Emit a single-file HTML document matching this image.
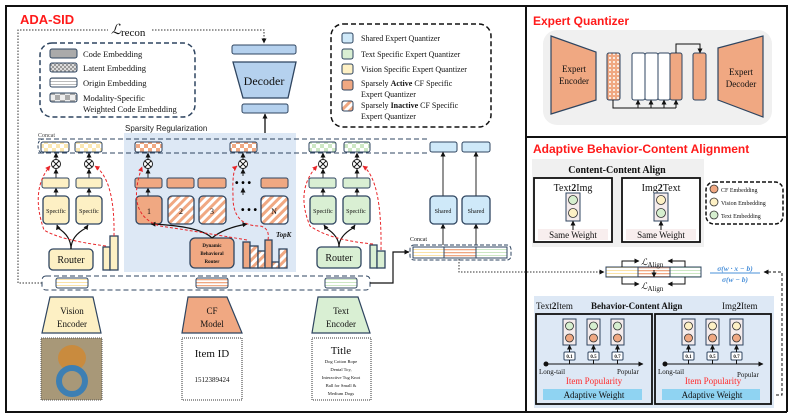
<!DOCTYPE html>
<html><head><meta charset="utf-8">
<style>
html,body{margin:0;padding:0;background:#fff;}
svg{display:block;}
.s{font-family:"Liberation Serif",serif;fill:#111;}
.t{font-family:"Liberation Sans",sans-serif;font-weight:bold;fill:#ff1a1a;}
</style></head><body>
<svg width="793" height="418" viewBox="0 0 793 418" xmlns="http://www.w3.org/2000/svg">
<defs>
<pattern id="hatch" width="6" height="6" patternUnits="userSpaceOnUse" patternTransform="rotate(45)">
<rect width="6" height="6" fill="#fff"/><rect width="3" height="6" fill="#f0a882"/></pattern>
<pattern id="dots" width="4" height="4" patternUnits="userSpaceOnUse">
<rect width="4" height="4" fill="#f0a882"/><circle cx="2" cy="2" r="1" fill="#fff"/></pattern>
<pattern id="lat" width="4" height="4" patternUnits="userSpaceOnUse">
<rect width="4" height="4" fill="#999"/><rect width="2" height="2" fill="#ddd"/><rect x="2" y="2" width="2" height="2" fill="#ddd"/></pattern>
<pattern id="stripes" width="4" height="3" patternUnits="userSpaceOnUse">
<rect width="4" height="3" fill="#fff"/><rect width="4" height="1" fill="#bbb"/></pattern>
<pattern id="chk" width="10" height="10" patternUnits="userSpaceOnUse">
<rect width="10" height="10" fill="#eee"/><rect width="5" height="5" fill="#aaa"/><rect x="5" y="5" width="5" height="5" fill="#aaa"/></pattern>
<pattern id="chkY" width="8" height="8" patternUnits="userSpaceOnUse">
<rect width="8" height="8" fill="#fff"/><rect width="4" height="4" fill="#fbe7b0"/><rect x="4" y="4" width="4" height="4" fill="#fbe7b0"/></pattern>
<pattern id="chkO" width="8" height="8" patternUnits="userSpaceOnUse">
<rect width="8" height="8" fill="#fff"/><rect width="4" height="4" fill="#f0a882"/><rect x="4" y="4" width="4" height="4" fill="#f0a882"/></pattern>
<pattern id="chkG" width="8" height="8" patternUnits="userSpaceOnUse">
<rect width="8" height="8" fill="#fff"/><rect width="4" height="4" fill="#cde8c4"/><rect x="4" y="4" width="4" height="4" fill="#cde8c4"/></pattern>
<pattern id="strY" width="4" height="3" patternUnits="userSpaceOnUse"><rect width="4" height="3" fill="#fff"/><rect width="4" height="1" fill="#fbe3a8"/></pattern>
<pattern id="strO" width="4" height="3" patternUnits="userSpaceOnUse"><rect width="4" height="3" fill="#fff"/><rect width="4" height="1.3" fill="#f0a882"/></pattern>
<pattern id="strG" width="4" height="3" patternUnits="userSpaceOnUse"><rect width="4" height="3" fill="#fff"/><rect width="4" height="1" fill="#cde8c4"/></pattern>
<marker id="ar" markerUnits="userSpaceOnUse" markerWidth="5" markerHeight="5" refX="4.5" refY="2.5" orient="auto"><path d="M0,0 L5,2.5 L0,5 z" fill="#111"/></marker>
<marker id="arR" markerUnits="userSpaceOnUse" markerWidth="5" markerHeight="5" refX="4.5" refY="2.5" orient="auto"><path d="M0,0 L5,2.5 L0,5 z" fill="#e8262a"/></marker>
</defs>

<rect x="6" y="6" width="520" height="406" fill="none" stroke="#111" stroke-width="2"/>
<rect x="526" y="6" width="261" height="131" fill="none" stroke="#111" stroke-width="2"/>
<line x1="526" y1="137" x2="526" y2="412" stroke="#111" stroke-width="2" stroke-dasharray="6,3"/>
<line x1="526" y1="412" x2="787" y2="412" stroke="#111" stroke-width="2"/>
<line x1="787" y1="137" x2="787" y2="412" stroke="#111" stroke-width="2"/>

<text x="20" y="24" class="t" font-size="13">ADA-SID</text>
<text x="533" y="25" class="t" font-size="12">Expert Quantizer</text>
<text x="533" y="153" class="t" font-size="12">Adaptive Behavior-Content Alignment</text>

<path d="M42,283 H18 V30 H108 M152,30 H264 V43" fill="none" stroke="#333" stroke-width="1" stroke-dasharray="1.5,1.5" marker-end="url(#ar)"/>
<text x="111" y="34" class="s" font-size="14" font-style="italic">ℒ</text><text x="121" y="36" class="s" font-size="11">recon</text>

<rect x="40" y="43" width="155" height="74" rx="12" fill="none" stroke="#2f4560" stroke-width="1.5" stroke-dasharray="5,3"/>
<rect x="50" y="49" width="27" height="9" rx="2" fill="#aaa" stroke="#2f4560"/>
<rect x="50" y="63" width="27" height="9" rx="2" fill="url(#lat)" stroke="#2f4560"/>
<rect x="50" y="78" width="27" height="9" rx="2" fill="url(#stripes)" stroke="#2f4560"/>
<rect x="50" y="93" width="27" height="9" rx="2" fill="url(#chk)" stroke="#2f4560"/>
<g class="s" font-size="8.5">
<text x="83" y="57">Code Embedding</text>
<text x="83" y="71">Latent Embedding</text>
<text x="83" y="86">Origin Embedding</text>
<text x="83" y="101">Modality-Specific</text>
<text x="83" y="112">Weighted Code Embedding</text>
</g>

<rect x="232" y="45" width="64" height="9" rx="2" fill="#b5d1ee" stroke="#2f4560"/>
<polygon points="233,62 296,62 288,98 243,98" fill="#b5d1ee" stroke="#2f4560" stroke-width="1.3"/>
<text x="264" y="85" class="s" font-size="12" text-anchor="middle">Decoder</text>
<rect x="242" y="104" width="46" height="9" rx="2" fill="#b5d1ee" stroke="#2f4560"/>
<line x1="265" y1="138" x2="265" y2="114" stroke="#111" stroke-width="1.3" marker-end="url(#ar)"/>

<rect x="331" y="24" width="160" height="103" rx="12" fill="none" stroke="#111" stroke-width="1.5" stroke-dasharray="5,3"/>
<g stroke="#2f4560">
<rect x="342" y="33" width="11" height="10" rx="2" fill="#cfe9f9"/>
<rect x="342" y="49" width="11" height="10" rx="2" fill="#d9efd3"/>
<rect x="342" y="64" width="11" height="10" rx="2" fill="#fdf0c4"/>
<rect x="342" y="80" width="11" height="10" rx="2" fill="#f0a882"/>
<rect x="342" y="101" width="11" height="10" rx="2" fill="url(#hatch)"/>
</g>
<g class="s" font-size="8">
<text x="361" y="41">Shared Expert Quantizer</text>
<text x="361" y="57">Text Specific Expert Quantizer</text>
<text x="361" y="72">Vision Specific Expert Quantizer</text>
<text x="361" y="86">Sparsely <tspan font-weight="bold">Active</tspan> CF Specific</text>
<text x="361" y="97">Expert Quantizer</text>
<text x="361" y="108">Sparsely <tspan font-weight="bold">Inactive</tspan> CF Specific</text>
<text x="361" y="119">Expert Quantizer</text>
</g>

<rect x="124" y="133" width="172" height="139" fill="#dde8f5"/>
<text x="125" y="131" font-family="Liberation Sans,sans-serif" font-size="8" fill="#222">Sparsity Regularization</text>

<text x="38" y="137" font-family="Liberation Serif,serif" font-size="6" fill="#444">Concat</text>
<path d="M38,139 H430 M38,153 H430" stroke="#2f4560" stroke-width="1" stroke-dasharray="5,3"/>
<path d="M44,139 Q38,139 38,146 Q38,153 44,153" fill="none" stroke="#2f4560" stroke-dasharray="3,2"/>

<g stroke="#2f4560" stroke-width="1">
<rect x="41" y="142" width="28" height="10" rx="2" fill="url(#chkY)"/>
<rect x="75" y="142" width="27" height="10" rx="2" fill="url(#chkY)"/>
<rect x="135" y="142" width="27" height="10" rx="2" fill="url(#chkO)"/>
<rect x="230" y="142" width="27" height="10" rx="2" fill="url(#chkO)"/>
<rect x="309" y="142" width="27" height="10" rx="2" fill="url(#chkG)"/>
<rect x="344" y="142" width="26" height="10" rx="2" fill="url(#chkG)"/>
<rect x="430" y="142" width="27" height="10" rx="2" fill="#cfe9f9"/>
<rect x="462" y="142" width="28" height="10" rx="2" fill="#cfe9f9"/>
</g>

<g stroke="#111" stroke-width="0.9">
<circle cx="56" cy="164" r="4.5" fill="#fff"/><path d="M53,161 L59,167 M59,161 L53,167"/>
<circle cx="89" cy="164" r="4.5" fill="#fff"/><path d="M86,161 L92,167 M92,161 L86,167"/>
<circle cx="148" cy="164" r="4.5" fill="#fff"/><path d="M145,161 L151,167 M151,161 L145,167"/>
<circle cx="243" cy="164" r="4.5" fill="#fff"/><path d="M240,161 L246,167 M246,161 L240,167"/>
<circle cx="323" cy="164" r="4.5" fill="#fff"/><path d="M320,161 L326,167 M326,161 L320,167"/>
<circle cx="357" cy="164" r="4.5" fill="#fff"/><path d="M354,161 L360,167 M360,161 L354,167"/>
</g>
<g stroke="#111" stroke-width="0.9" marker-end="url(#ar)">
<line x1="56" y1="159" x2="56" y2="153"/><line x1="89" y1="159" x2="89" y2="153"/>
<line x1="148" y1="159" x2="148" y2="153"/><line x1="243" y1="159" x2="243" y2="153"/>
<line x1="323" y1="159" x2="323" y2="153"/><line x1="357" y1="159" x2="357" y2="153"/>
<line x1="56" y1="178" x2="56" y2="169"/><line x1="89" y1="178" x2="89" y2="169"/>
<line x1="148" y1="178" x2="148" y2="169"/><line x1="243" y1="176" x2="243" y2="169"/>
<line x1="323" y1="178" x2="323" y2="169"/><line x1="357" y1="178" x2="357" y2="169"/>
<line x1="56" y1="196" x2="56" y2="188"/><line x1="89" y1="196" x2="89" y2="188"/>
<line x1="148" y1="196" x2="148" y2="188"/><line x1="243" y1="195" x2="243" y2="188"/>
<line x1="323" y1="196" x2="323" y2="188"/><line x1="357" y1="196" x2="357" y2="188"/>
<line x1="443" y1="196" x2="443" y2="152"/><line x1="476" y1="196" x2="476" y2="152"/>
<line x1="443" y1="245" x2="443" y2="224"/><line x1="476" y1="245" x2="476" y2="224"/>
</g>

<g stroke="#2f4560" stroke-width="1">
<rect x="42" y="178" width="27" height="10" rx="2" fill="#fdf0c4"/>
<rect x="76" y="178" width="26" height="10" rx="2" fill="#fdf0c4"/>
<rect x="135" y="178" width="27" height="10" rx="2" fill="#f0a882"/>
<rect x="167" y="178" width="27" height="10" rx="2" fill="#f0a882"/>
<rect x="198" y="178" width="28" height="10" rx="2" fill="#f0a882"/>
<rect x="261" y="178" width="27" height="10" rx="2" fill="#f0a882"/>
<rect x="309" y="178" width="27" height="10" rx="2" fill="#d9efd3"/>
<rect x="343" y="178" width="27" height="10" rx="2" fill="#d9efd3"/>
</g>
<text x="243" y="186" font-size="10" text-anchor="middle" font-family="Liberation Sans,sans-serif" font-weight="bold">• • •</text>
<text x="249" y="213" font-size="10" text-anchor="middle" font-family="Liberation Sans,sans-serif" font-weight="bold">• • •</text>

<g stroke="#2f4560" stroke-width="1.3">
<rect x="43" y="196" width="26" height="28" rx="4" fill="#fdf0c4"/>
<rect x="76" y="196" width="26" height="28" rx="4" fill="#fdf0c4"/>
<rect x="136" y="196" width="26" height="28" rx="4" fill="#f0a882"/>
<rect x="168" y="196" width="26" height="28" rx="4" fill="url(#hatch)"/>
<rect x="199" y="196" width="27" height="28" rx="4" fill="url(#hatch)"/>
<rect x="261" y="196" width="27" height="28" rx="4" fill="url(#hatch)"/>
<rect x="310" y="196" width="26" height="28" rx="4" fill="#d9efd3"/>
<rect x="343" y="196" width="27" height="28" rx="4" fill="#d9efd3"/>
<rect x="430" y="196" width="27" height="28" rx="4" fill="#cfe9f9"/>
<rect x="462" y="196" width="28" height="28" rx="4" fill="#cfe9f9"/>
</g>
<g class="s" font-size="6" text-anchor="middle" fill="#333">
<text x="56" y="213">Specific</text><text x="89" y="213">Specific</text>
<text x="323" y="213">Specific</text><text x="356" y="213">Specific</text>
<text x="443" y="213">Shared</text><text x="476" y="213">Shared</text>
</g>
<g class="s" font-size="8" text-anchor="middle">
<text x="149" y="214">1</text><text x="181" y="214">2</text><text x="212" y="214">3</text><text x="274" y="214">N</text>
</g>

<g stroke="#2f4560" stroke-width="1.3">
<rect x="49" y="249" width="44" height="21" rx="4" fill="#fdf0c4"/>
<rect x="317" y="247" width="44" height="21" rx="4" fill="#d9efd3"/>
<rect x="190" y="238" width="44" height="30" rx="5" fill="#f0a882"/>
<rect x="103" y="247" width="7" height="23" fill="#fdf0c4"/>
<rect x="110" y="236" width="8" height="34" fill="#fdf0c4"/>
<rect x="370" y="245" width="7" height="23" fill="#d9efd3"/>
<rect x="377" y="251" width="8" height="17" fill="#d9efd3"/>
<rect x="243" y="242" width="7" height="26" fill="#f0a882"/>
<rect x="250" y="246" width="8" height="22" fill="url(#hatch)"/>
<rect x="258" y="251" width="7" height="17" fill="url(#hatch)"/>
<rect x="265" y="240" width="7" height="28" fill="#f0a882"/>
<rect x="272" y="262" width="7" height="6" fill="url(#hatch)"/>
<rect x="279" y="249" width="8" height="19" fill="url(#hatch)"/>
</g>
<g class="s" font-size="10" text-anchor="middle"><text x="71" y="263">Router</text><text x="339" y="261">Router</text></g>
<g class="s" font-size="5" font-weight="bold" text-anchor="middle">
<text x="212" y="247">Dynamic</text><text x="212" y="255">Behavioral</text><text x="212" y="263">Router</text></g>
<text x="276" y="237" class="s" font-size="7" font-weight="bold" font-style="italic">TopK</text>

<g fill="none" stroke="#111" stroke-width="1.2" marker-end="url(#ar)">
<path d="M71,249 Q71,236 58,228 L57,225"/><path d="M71,249 Q71,236 86,228 L88,225"/>
<path d="M339,247 Q339,236 326,228 L324,225"/><path d="M339,247 Q339,236 353,228 L355,225"/>
<path d="M212,238 Q200,226 151,224"/><path d="M212,238 Q224,228 247,224"/>
</g>
<g fill="none" stroke="#e8262a" stroke-width="1" stroke-dasharray="3,2">
<path d="M106,246 Q60,240 44,230 Q30,190 50,166" marker-end="url(#arR)"/>
<path d="M114,236 Q115,180 95,166" marker-end="url(#arR)"/>
<path d="M247,240 Q200,232 160,226 Q125,215 142,167" marker-end="url(#arR)"/>
<path d="M268,240 Q270,228 260,226 Q232,226 233,195 Q232,170 237,166" marker-end="url(#arR)"/>
<path d="M373,244 Q330,240 310,226 Q295,190 317,166" marker-end="url(#arR)"/>
<path d="M381,250 Q382,180 363,166" marker-end="url(#arR)"/>
</g>

<rect x="42" y="276" width="328" height="14" rx="4" fill="none" stroke="#2f4560" stroke-dasharray="5,3"/>
<g stroke="#2f4560">
<rect x="56" y="278" width="32" height="10" rx="2" fill="url(#strY)"/>
<rect x="196" y="278" width="32" height="10" rx="2" fill="url(#strO)"/>
<rect x="325" y="278" width="32" height="10" rx="2" fill="url(#strG)"/>
</g>

<polygon points="50,297 93,297 101,333 42,333" fill="#fdf0c4" stroke="#2f4560" stroke-width="1.2"/>
<polygon points="188,297 227,297 242,333 182,333" fill="#f0a882" stroke="#2f4560" stroke-width="1.2"/>
<polygon points="318,297 358,297 370,333 312,333" fill="#d9efd3" stroke="#2f4560" stroke-width="1.2"/>
<g class="s" font-size="9" text-anchor="middle">
<text x="72" y="314">Vision</text><text x="72" y="327">Encoder</text>
<text x="212" y="314">CF</text><text x="212" y="327">Model</text>
<text x="341" y="314">Text</text><text x="341" y="327">Encoder</text>
</g>
<rect x="41" y="338" width="61" height="62" fill="#a89878"/>
<ellipse cx="72" cy="358" rx="14" ry="13" fill="#c98b3e"/>
<circle cx="72" cy="381" r="13" fill="none" stroke="#3d7fb3" stroke-width="6"/>
<rect x="41" y="338" width="61" height="62" fill="none" stroke="#555" stroke-dasharray="1,1"/>
<rect x="182" y="338" width="60" height="62" fill="none" stroke="#333" stroke-dasharray="1,1"/>
<rect x="312" y="338" width="59" height="62" fill="none" stroke="#333" stroke-dasharray="1,1"/>
<g class="s" text-anchor="middle">
<text x="212" y="357" font-size="11">Item ID</text>
<text x="212" y="382" font-size="7">1512389424</text>
<text x="341" y="354" font-size="11">Title</text>
<text x="341" y="363" font-size="4.6">Dog Cotton Rope</text>
<text x="341" y="371" font-size="4.6">Dental Toy,</text>
<text x="341" y="379" font-size="4.6">Interactive Tug Knot</text>
<text x="341" y="387" font-size="4.6">Ball for Small &amp;</text>
<text x="341" y="395" font-size="4.6">Medium Dogs</text>
</g>

<path d="M370,283 H393 V252 H409" fill="none" stroke="#111" stroke-width="1.2" marker-end="url(#ar)"/>
<text x="410" y="241" class="s" font-size="6" fill="#444">Concat</text>
<rect x="410" y="245" width="101" height="15" rx="4" fill="none" stroke="#2f4560" stroke-dasharray="4,2"/>
<g stroke="#2f4560">
<rect x="413" y="247" width="31" height="11" fill="url(#strY)"/>
<rect x="444" y="247" width="32" height="11" fill="url(#strO)"/>
<rect x="476" y="247" width="31" height="11" fill="url(#strG)"/>
</g>
<path d="M459,259 V272 H604" fill="none" stroke="#333" stroke-dasharray="1.5,1.5" marker-end="url(#ar)"/>

<rect x="543" y="30" width="229" height="95" rx="14" fill="#f0f0f0"/>
<polygon points="551,36 596,52 596,100 551,114" fill="#f0a882" stroke="#2f4560" stroke-width="1.2"/>
<polygon points="718,48 763,36 763,117 718,100" fill="#f0a882" stroke="#2f4560" stroke-width="1.2"/>
<g class="s" font-size="9" text-anchor="middle">
<text x="574" y="72">Expert</text><text x="574" y="84">Encoder</text>
<text x="741" y="75">Expert</text><text x="741" y="87">Decoder</text>
</g>
<g stroke="#2f4560" stroke-width="1">
<rect x="607" y="53" width="13" height="47" rx="2" fill="url(#dots)"/>
<rect x="632" y="53" width="13" height="47" rx="2" fill="#fff"/>
<rect x="645" y="53" width="13" height="47" rx="2" fill="#fff"/>
<rect x="658" y="53" width="12" height="47" rx="2" fill="#fff"/>
<rect x="670" y="53" width="12" height="47" rx="2" fill="#f0a882"/>
<rect x="693" y="53" width="13" height="47" rx="2" fill="#f0a882"/>
</g>
<path d="M613,100 V108 H676" fill="none" stroke="#111"/>
<g stroke="#111" marker-end="url(#ar)">
<line x1="638" y1="108" x2="638" y2="100"/><line x1="651" y1="108" x2="651" y2="100"/>
<line x1="664" y1="108" x2="664" y2="100"/><line x1="676" y1="108" x2="676" y2="100"/>
<path d="M676,53 V44 H700 V53" fill="none"/>
</g>

<rect x="532" y="159" width="172" height="88" fill="#f0f0f0"/>
<text x="617" y="173" class="s" font-size="10" font-weight="bold" text-anchor="middle">Content-Content Align</text>
<rect x="534" y="178" width="78" height="64" fill="#fff" stroke="#111" stroke-width="1.8"/>
<rect x="622" y="178" width="78" height="64" fill="#fff" stroke="#111" stroke-width="1.8"/>
<g class="s" font-size="10" text-anchor="middle">
<text x="573" y="191">Text<tspan font-weight="bold">2</tspan>Img</text>
<text x="661" y="191">Img<tspan font-weight="bold">2</tspan>Text</text>
</g>
<rect x="538" y="229" width="70" height="11" fill="#f8eeee"/><rect x="626" y="229" width="70" height="11" fill="#f8eeee"/>
<g class="s" font-size="9" text-anchor="middle"><text x="573" y="238">Same Weight</text><text x="661" y="238">Same Weight</text></g>
<rect x="566" y="193" width="14" height="28" fill="#f5ecec" stroke="#2f4560"/>
<rect x="654" y="193" width="14" height="28" fill="#f5ecec" stroke="#2f4560"/>
<g stroke="#333" stroke-width="0.8">
<circle cx="573" cy="200" r="4.5" fill="#d6efcf"/><circle cx="573" cy="213" r="4.5" fill="#fdf0c4"/>
<circle cx="661" cy="200" r="4.5" fill="#fdf0c4"/><circle cx="661" cy="213" r="4.5" fill="#d6efcf"/>
</g>
<g stroke="#111" marker-end="url(#ar)"><line x1="573" y1="230" x2="573" y2="221"/><line x1="661" y1="230" x2="661" y2="221"/></g>
<rect x="706" y="182" width="77" height="42" rx="8" fill="none" stroke="#111" stroke-width="1.5" stroke-dasharray="4,2"/>
<g stroke="#333" stroke-width="0.8">
<circle cx="714" cy="189" r="4" fill="#f0a882"/><circle cx="714" cy="202" r="4" fill="#fdf0c4"/><circle cx="714" cy="215" r="4" fill="#d6efcf"/>
</g>
<g class="s" font-size="6"><text x="721" y="192">CF Embedding</text><text x="721" y="205">Vision Embedding</text><text x="721" y="218">Text Embedding</text></g>

<g stroke="#2f4560">
<rect x="606" y="267" width="32" height="10" fill="url(#strY)"/>
<rect x="638" y="267" width="32" height="10" fill="url(#strO)"/>
<rect x="670" y="267" width="31" height="10" fill="url(#strG)"/>
</g>
<g fill="none" stroke="#111" marker-end="url(#ar)">
<path d="M622,267 V261 H639"/><path d="M685,267 V261 H668"/>
<path d="M622,277 V284 H639"/><path d="M685,277 V284 H668"/>
<line x1="654" y1="270" x2="654" y2="277"/>
</g>
<text x="641" y="265" class="s" font-size="9" font-style="italic">ℒ<tspan font-style="normal" font-size="7" dy="2">Align</tspan></text>
<text x="641" y="289" class="s" font-size="9" font-style="italic">ℒ<tspan font-style="normal" font-size="7" dy="2">Align</tspan></text>
<g class="s" font-size="7.5" font-style="italic" font-weight="bold" text-anchor="middle">
<text x="735" y="271" fill="#4a90d9">σ(w · x − b)</text>
<line x1="710" y1="273" x2="760" y2="273" stroke="#4a90d9"/>
<text x="735" y="282" fill="#4a90d9">σ(w − b)</text>
</g>
<path d="M771,395 H782 V272 H764" fill="none" stroke="#111" stroke-dasharray="3,2" marker-end="url(#ar)"/>

<rect x="534" y="296" width="240" height="112" fill="#dde8f5"/>
<text x="536" y="309" class="s" font-size="9">Text<tspan font-weight="bold">2</tspan>Item</text>
<text x="591" y="309" class="s" font-size="9" font-weight="bold">Behavior-Content Align</text>
<text x="722" y="309" class="s" font-size="9">Img<tspan font-weight="bold">2</tspan>Item</text>
<rect x="536" y="314" width="116" height="90" fill="none" stroke="#111" stroke-width="1.8"/>
<rect x="655" y="314" width="116" height="90" fill="none" stroke="#111" stroke-width="1.8"/>
<g stroke="#2f4560"><rect x="563" y="319" width="13" height="26" fill="#f5ecec"/><rect x="587" y="319" width="13" height="26" fill="#f5ecec"/><rect x="611" y="319" width="13" height="26" fill="#f5ecec"/>
<rect x="682" y="319" width="13" height="26" fill="#f5ecec"/><rect x="706" y="319" width="13" height="26" fill="#f5ecec"/><rect x="730" y="319" width="13" height="26" fill="#f5ecec"/></g>
<g stroke="#333" stroke-width="0.8">
<circle cx="569.5" cy="326" r="4" fill="#d6efcf"/><circle cx="569.5" cy="338" r="4" fill="#f0a882"/>
<circle cx="593.5" cy="326" r="4" fill="#d6efcf"/><circle cx="593.5" cy="338" r="4" fill="#f0a882"/>
<circle cx="617.5" cy="326" r="4" fill="#d6efcf"/><circle cx="617.5" cy="338" r="4" fill="#f0a882"/>
<circle cx="688.5" cy="326" r="4" fill="#fdf0c4"/><circle cx="688.5" cy="338" r="4" fill="#f0a882"/>
<circle cx="712.5" cy="326" r="4" fill="#fdf0c4"/><circle cx="712.5" cy="338" r="4" fill="#f0a882"/>
<circle cx="736.5" cy="326" r="4" fill="#fdf0c4"/><circle cx="736.5" cy="338" r="4" fill="#f0a882"/>
</g>
<g stroke="#2f4560" fill="#fff">
<rect x="564" y="352" width="11" height="8" rx="1"/><rect x="588" y="352" width="11" height="8" rx="1"/><rect x="612" y="352" width="11" height="8" rx="1"/>
<rect x="683" y="352" width="11" height="8" rx="1"/><rect x="707" y="352" width="11" height="8" rx="1"/><rect x="731" y="352" width="11" height="8" rx="1"/>
</g>
<g class="s" font-size="5" font-weight="bold" text-anchor="middle">
<text x="569.5" y="358">0.1</text><text x="593.5" y="358">0.5</text><text x="617.5" y="358">0.7</text>
<text x="688.5" y="358">0.1</text><text x="712.5" y="358">0.5</text><text x="736.5" y="358">0.7</text>
</g>
<g stroke="#111" marker-end="url(#ar)">
<line x1="569.5" y1="352" x2="569.5" y2="345"/><line x1="593.5" y1="352" x2="593.5" y2="345"/><line x1="617.5" y1="352" x2="617.5" y2="345"/>
<line x1="688.5" y1="352" x2="688.5" y2="345"/><line x1="712.5" y1="352" x2="712.5" y2="345"/><line x1="736.5" y1="352" x2="736.5" y2="345"/>
<line x1="546" y1="364" x2="643" y2="364"/><line x1="665" y1="364" x2="763" y2="364"/>
</g>
<g stroke="#111"><line x1="569.5" y1="360" x2="569.5" y2="364"/><line x1="593.5" y1="360" x2="593.5" y2="364"/><line x1="617.5" y1="360" x2="617.5" y2="364"/>
<line x1="688.5" y1="360" x2="688.5" y2="364"/><line x1="712.5" y1="360" x2="712.5" y2="364"/><line x1="736.5" y1="360" x2="736.5" y2="364"/></g>
<circle cx="546" cy="364" r="2.5" fill="#111"/><circle cx="665" cy="364" r="2.5" fill="#111"/>
<g class="s" font-size="7">
<text x="539" y="374">Long-tail</text><text x="617" y="374">Popular</text>
<text x="658" y="374">Long-tail</text><text x="737" y="377">Popular</text>
</g>
<g class="s" font-size="9" text-anchor="middle">
<text x="594" y="384" fill="#ff2a2a">Item Popularity</text><text x="713" y="384" fill="#ff2a2a">Item Popularity</text>
</g>
<rect x="543" y="389" width="99" height="11" fill="#8fd3f2"/>
<rect x="662" y="389" width="98" height="11" fill="#8fd3f2"/>
<g class="s" font-size="9" text-anchor="middle"><text x="594" y="398">Adaptive Weight</text><text x="712" y="398">Adaptive Weight</text></g>
</svg>
</body></html>
